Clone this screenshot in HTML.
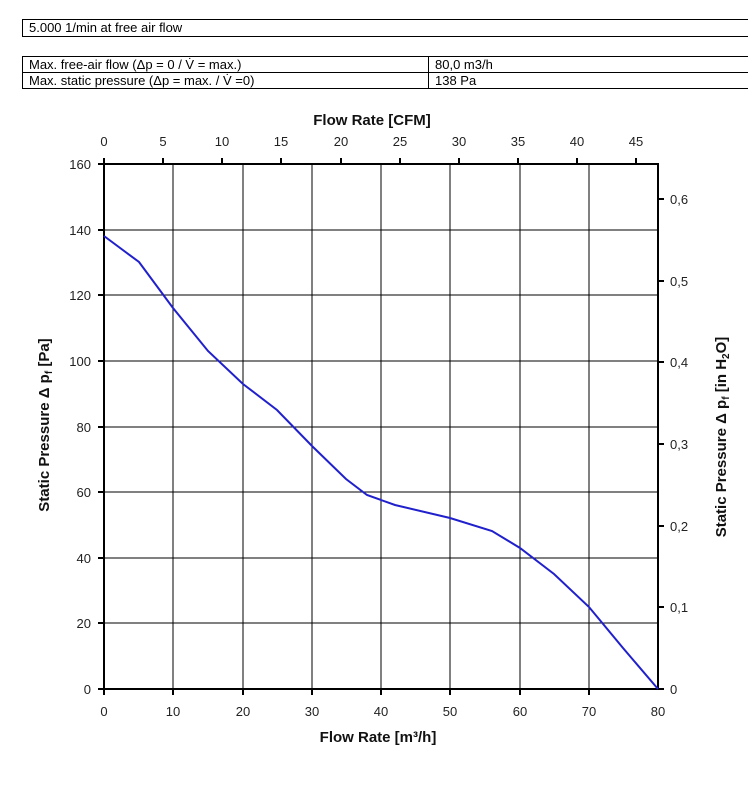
<!DOCTYPE html>
<html><head><style>
body{margin:0;background:#fff;width:748px;height:795px;overflow:hidden;font-family:"Liberation Sans",sans-serif;}
.box{position:absolute;border:1px solid #000;font-size:13px;line-height:15px;padding-left:6px;box-sizing:border-box;}
svg{position:absolute;left:0;top:0}
</style></head><body>
<div class="box" style="left:22px;top:19px;width:740px;height:18px;">5.000 1/min at free air flow</div>
<div class="box" style="left:22px;top:56px;width:407px;height:17px;">Max. free-air flow (Δp = 0 / V̇ = max.)</div>
<div class="box" style="left:428px;top:56px;width:330px;height:17px;">80,0 m3/h</div>
<div class="box" style="left:22px;top:72px;width:407px;height:17px;">Max. static pressure (Δp = max. / V̇ =0)</div>
<div class="box" style="left:428px;top:72px;width:330px;height:17px;">138 Pa</div>
<svg width="748" height="795" font-family="Liberation Sans, sans-serif">
<g stroke="#000" stroke-width="1">
<line x1="173" y1="164" x2="173" y2="689"/><line x1="243" y1="164" x2="243" y2="689"/>
<line x1="312" y1="164" x2="312" y2="689"/><line x1="381" y1="164" x2="381" y2="689"/>
<line x1="450" y1="164" x2="450" y2="689"/><line x1="520" y1="164" x2="520" y2="689"/>
<line x1="589" y1="164" x2="589" y2="689"/>
<line x1="104" y1="230" x2="658" y2="230"/><line x1="104" y1="295" x2="658" y2="295"/>
<line x1="104" y1="361" x2="658" y2="361"/><line x1="104" y1="427" x2="658" y2="427"/>
<line x1="104" y1="492" x2="658" y2="492"/><line x1="104" y1="558" x2="658" y2="558"/>
<line x1="104" y1="623" x2="658" y2="623"/>
</g>
<rect x="104" y="164" width="554" height="525" fill="none" stroke="#000" stroke-width="2"/>
<g stroke="#000" stroke-width="2">
<line x1="98" y1="164" x2="104" y2="164"/><line x1="98" y1="230" x2="104" y2="230"/><line x1="98" y1="295" x2="104" y2="295"/><line x1="98" y1="361" x2="104" y2="361"/><line x1="98" y1="427" x2="104" y2="427"/><line x1="98" y1="492" x2="104" y2="492"/><line x1="98" y1="558" x2="104" y2="558"/><line x1="98" y1="623" x2="104" y2="623"/><line x1="98" y1="689" x2="104" y2="689"/>
<line x1="658" y1="199" x2="664" y2="199"/><line x1="658" y1="281" x2="664" y2="281"/><line x1="658" y1="362" x2="664" y2="362"/><line x1="658" y1="444" x2="664" y2="444"/><line x1="658" y1="526" x2="664" y2="526"/><line x1="658" y1="607" x2="664" y2="607"/><line x1="658" y1="689" x2="664" y2="689"/>
<line x1="104" y1="689" x2="104" y2="695"/><line x1="173" y1="689" x2="173" y2="695"/><line x1="243" y1="689" x2="243" y2="695"/><line x1="312" y1="689" x2="312" y2="695"/><line x1="381" y1="689" x2="381" y2="695"/><line x1="450" y1="689" x2="450" y2="695"/><line x1="520" y1="689" x2="520" y2="695"/><line x1="589" y1="689" x2="589" y2="695"/>
<line x1="104" y1="158" x2="104" y2="164"/><line x1="163" y1="158" x2="163" y2="164"/><line x1="222" y1="158" x2="222" y2="164"/><line x1="281" y1="158" x2="281" y2="164"/><line x1="341" y1="158" x2="341" y2="164"/><line x1="400" y1="158" x2="400" y2="164"/><line x1="459" y1="158" x2="459" y2="164"/><line x1="518" y1="158" x2="518" y2="164"/><line x1="577" y1="158" x2="577" y2="164"/><line x1="636" y1="158" x2="636" y2="164"/>
</g>
<polyline fill="none" stroke="#2020cc" stroke-width="2" points="104,236 139,262 173,308 208,351 243,384 277,410 312,446 346,479 367,495 395,505 450,518 492,531 520,548 554,574 589,607 623,648 658,689"/>
<g font-size="13" fill="#222" text-anchor="end">
<text x="91" y="169">160</text><text x="91" y="235">140</text><text x="91" y="300">120</text><text x="91" y="366">100</text><text x="91" y="432">80</text><text x="91" y="497">60</text><text x="91" y="563">40</text><text x="91" y="628">20</text><text x="91" y="694">0</text>
</g>
<g font-size="13" fill="#222">
<text x="670" y="204">0,6</text><text x="670" y="286">0,5</text><text x="670" y="367">0,4</text><text x="670" y="449">0,3</text><text x="670" y="531">0,2</text><text x="670" y="612">0,1</text><text x="670" y="694">0</text>
</g>
<g font-size="13" fill="#222" text-anchor="middle">
<text x="104" y="716">0</text><text x="173" y="716">10</text><text x="243" y="716">20</text><text x="312" y="716">30</text><text x="381" y="716">40</text><text x="450" y="716">50</text><text x="520" y="716">60</text><text x="589" y="716">70</text><text x="658" y="716">80</text>
<text x="104" y="146">0</text><text x="163" y="146">5</text><text x="222" y="146">10</text><text x="281" y="146">15</text><text x="341" y="146">20</text><text x="400" y="146">25</text><text x="459" y="146">30</text><text x="518" y="146">35</text><text x="577" y="146">40</text><text x="636" y="146">45</text>
</g>
<g font-size="15" font-weight="bold" fill="#111" text-anchor="middle">
<text x="372" y="125">Flow Rate [CFM]</text>
<text x="378" y="742">Flow Rate [m³/h]</text>
<text transform="translate(49,425) rotate(-90)">Static Pressure Δ p<tspan font-size="10" dy="3">f</tspan><tspan dy="-3"> [Pa]</tspan></text>
<text transform="translate(726,437) rotate(-90)">Static Pressure Δ p<tspan font-size="10" dy="3">f</tspan><tspan dy="-3"> [in H</tspan><tspan font-size="10" dy="3">2</tspan><tspan dy="-3">O]</tspan></text>
</g>
</svg>
</body></html>
